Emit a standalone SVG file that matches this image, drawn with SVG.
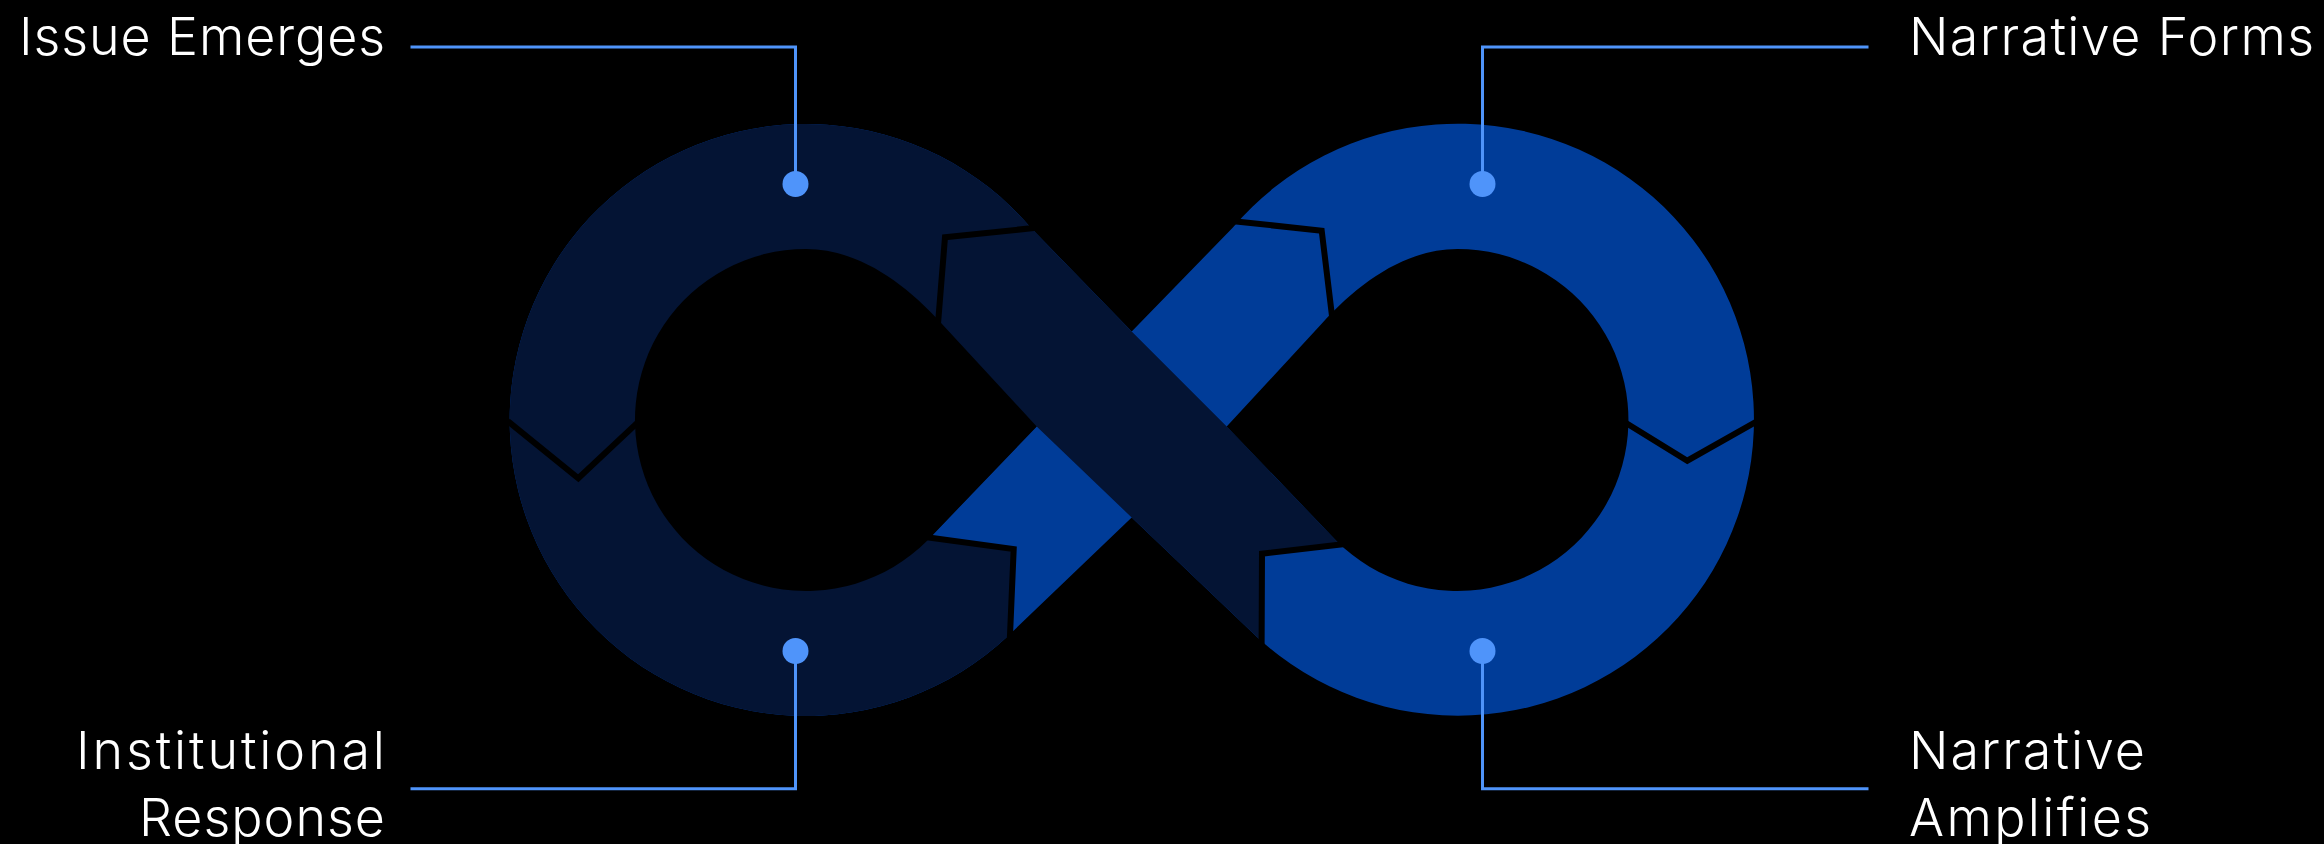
<svg xmlns="http://www.w3.org/2000/svg" width="2324" height="844" viewBox="0 0 2324 844">
<style>
.lbl{font-family:Inter,"Liberation Sans",sans-serif;font-weight:300;font-size:52px;fill:#ffffff}
.end{text-anchor:end}
.con{fill:none;stroke:#4F94FA;stroke-width:3}
.dot{fill:#4F94FA}
.brk{fill:none;stroke:#000000;stroke-width:6;stroke-linejoin:miter;stroke-miterlimit:10}
.hole{fill:#000000}
</style>
<defs>
<clipPath id="sil"><path d="M1131.7,331.5 L1031,228 A296,296 0 1 0 1008,636 L1131.7,517.5 L1257,637 A296,296 0 1 0 1232.4,228 Z"/></clipPath>
</defs>
<rect width="2324" height="844" fill="#000000"/>
<g id="infinity">
<g clip-path="url(#sil)">
<rect x="400" y="0" width="1500" height="844" fill="#003C98"/>
<path fill="#041434" d="M300,-10 L1050,-10 L1100,250 L1131.7,331.5 L1226.7,426.5 L1340,544.7 L1262,553.7 L1261.7,700 L1131.7,517.5 L1036.7,426.5 L930,537.7 L1013.7,549 L1010,633.3 L1009,720 L300,850 Z"/>
</g>
<path class="hole" d="M1036.7,426.5 L942,324 C902,280 856,249 806,249 A171,171 0 1 0 926.9,540.9 Z"/>
<path class="hole" d="M1226.7,426.5 L1321.4,324 C1361.4,280 1407.4,249 1457.4,249 A171,171 0 1 1 1336.5,540.9 Z"/>
<polyline class="brk" points="507.8,421.1 578.3,478.3 638.6,421.6"/>
<polyline class="brk" points="1624,421.7 1687.3,460.7 1756,421.8"/>
<polyline class="brk" points="937.9,325 945,237.3 1036,227.8"/>
<polyline class="brk" points="1233.7,221.2 1321.7,230.7 1332.3,318.3"/>
<polyline class="brk" points="925,537 1013.7,549 1009.8,640"/>
<polyline class="brk" points="1345,544.1 1262,553.7 1261.6,648"/>
</g>
<g id="connectors">
<polyline class="con" points="410.5,47 795.5,47 795.5,184"/>
<polyline class="con" points="410.5,788.7 795.5,788.7 795.5,651"/>
<polyline class="con" points="1868.5,47 1482.5,47 1482.5,184"/>
<polyline class="con" points="1868.5,788.7 1482.5,788.7 1482.5,651"/>
</g>
<g id="node-issue-emerges">
<circle class="dot" cx="795.5" cy="184" r="13"/>
<text class="lbl end" x="385" y="55" textLength="366" lengthAdjust="spacing">Issue Emerges</text>
</g>
<g id="node-narrative-forms">
<circle class="dot" cx="1482.5" cy="184" r="13"/>
<text class="lbl" x="1909" y="55" textLength="405" lengthAdjust="spacing">Narrative Forms</text>
</g>
<g id="node-narrative-amplifies">
<circle class="dot" cx="1482.5" cy="651" r="13"/>
<text class="lbl" x="1909" y="769" textLength="236" lengthAdjust="spacing">Narrative</text>
<text class="lbl" x="1909" y="836" textLength="242" lengthAdjust="spacing">Amplifies</text>
</g>
<g id="node-institutional-response">
<circle class="dot" cx="795.5" cy="651" r="13"/>
<text class="lbl end" x="385" y="769" textLength="309" lengthAdjust="spacing">Institutional</text>
<text class="lbl end" x="385" y="836" textLength="246" lengthAdjust="spacing">Response</text>
</g>
</svg>
